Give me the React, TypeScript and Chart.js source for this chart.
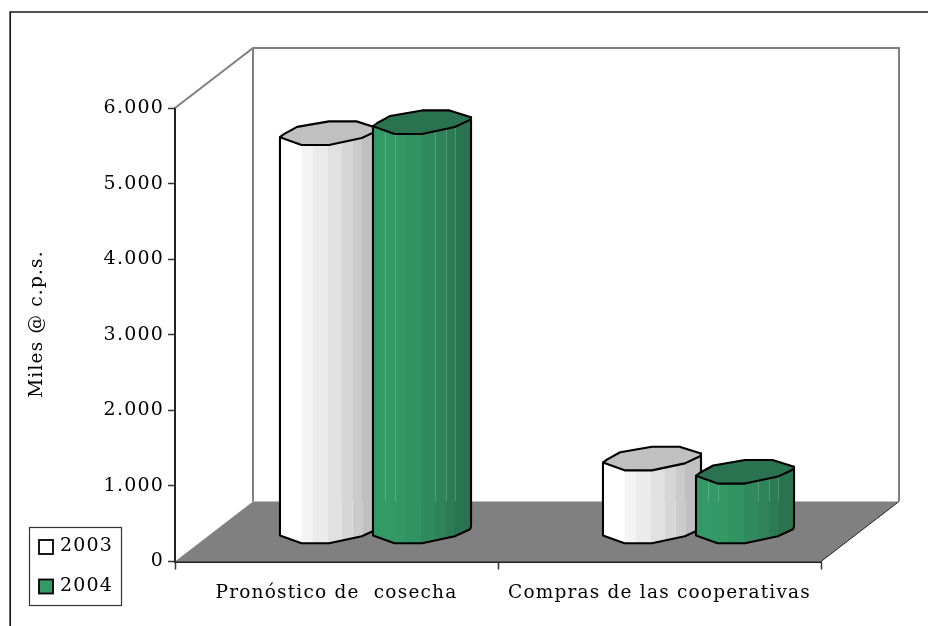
import React, { useEffect, useRef } from "react";
import { Chart, registerables } from "chart.js";

Chart.register(...registerables);

const categories = ["Pronóstico de  cosecha", "Compras de las cooperativas"];
const seriesNames = ["2003", "2004"];
const values2003 = [5270, 965];
const values2004 = [5415, 790];
const yTicks = [0, 1000, 2000, 3000, 4000, 5000, 6000];
const yTitle = "Miles @ c.p.s.";

const FONT = "'DejaVu Serif'";
const SPACING = "1.2px";
const DX = 78;
const DY = -60;

const whiteBands = ["#ffffff", "#f4f4f4", "#ebebeb", "#e1e1e1", "#d6d6d6", "#cbcbcb", "#c0c0c0"];
const greenBands = ["#339966", "#339864", "#329362", "#318a5e", "#2f8359", "#2d7b55", "#2a7350"];
const caps = ["#c0c0c0", "#2a7350"];
const swatches = ["#ffffff", "#339966"];
const bandStops = [-1, -0.56, -0.33, -0.02, 0.26, 0.49, 0.67, 1];
const sheenStops = [[-0.96, -0.75, 0.24, 0.47, 0.67], [-0.75, -0.56, 0.27, 0.49, 0.67]];

const capShape: [number, number][] = [
  [-1, 4], [-0.92, 1], [-0.65, -6.3], [0, -11.8], [0.56, -11.8],
  [1, -5], [0.98, -2.3], [0.67, 4.8], [0, 11.8], [-0.56, 11.8],
];

function poly(ctx: CanvasRenderingContext2D, pts: [number, number][]) {
  ctx.beginPath();
  pts.forEach((p, i) => (i ? ctx.lineTo(p[0], p[1]) : ctx.moveTo(p[0], p[1])));
  ctx.closePath();
}

function setSpacing(ctx: any) {
  ctx.letterSpacing = SPACING;
}

const scenePlugin = {
  id: "scene",
  beforeLayout(chart: any) {
    setSpacing(chart.ctx);
  },
  beforeDraw(chart: any) {
    setSpacing(chart.ctx);
  },
  beforeDatasetsDraw(chart: any) {
    const { ctx, chartArea: a } = chart;
    ctx.save();
    // outer frame
    ctx.strokeStyle = "#1a1a1a";
    ctx.lineWidth = 1.7;
    ctx.beginPath();
    ctx.moveTo(10.2, 626);
    ctx.lineTo(10.2, 12);
    ctx.lineTo(928, 12);
    ctx.stroke();
    // floor
    poly(ctx, [[a.left, a.bottom], [a.left + DX, a.bottom + DY], [a.right + DX, a.bottom + DY], [a.right, a.bottom]]);
    ctx.fillStyle = "#808080";
    ctx.fill();
    ctx.beginPath();
    ctx.moveTo(a.right, a.bottom);
    ctx.lineTo(a.right + DX, a.bottom + DY);
    ctx.lineWidth = 1;
    ctx.strokeStyle = "#222";
    ctx.stroke();
    // walls
    ctx.strokeStyle = "#808080";
    ctx.lineWidth = 2;
    ctx.beginPath();
    ctx.moveTo(a.left, a.top);
    ctx.lineTo(a.left + DX, a.top + DY);
    ctx.lineTo(a.right + DX, a.top + DY);
    ctx.lineTo(a.right + DX, a.bottom + DY);
    ctx.moveTo(a.left + DX, a.top + DY);
    ctx.lineTo(a.left + DX, a.bottom + DY);
    ctx.stroke();
    ctx.restore();
  },
  afterDatasetsDraw(chart: any) {
    const { ctx, chartArea: a } = chart;
    const baseY = a.bottom + DY / 2;
    const floorBackY = a.bottom + DY;
    const n = chart.data.labels.length;
    for (let c = 0; c < n; c++) {
      chart.data.datasets.forEach((ds: any, d: number) => {
        const el = chart.getDatasetMeta(d).data[c];
        const cx = el.x + DX / 2;
        const topY = el.y + DY / 2;
        const half = el.width / 2;
        const at = (p: [number, number], y: number): [number, number] => [cx + p[0] * half, y + p[1]];
        const outline: [number, number][] = [
          at(capShape[0], topY),
          at(capShape[0], baseY),
          at(capShape[9], baseY),
          at(capShape[8], baseY),
          at(capShape[7], baseY),
          at(capShape[6], baseY),
          at(capShape[5], baseY),
          at(capShape[5], topY),
        ];
        const bands = d === 0 ? whiteBands : greenBands;
        ctx.save();
        poly(ctx, outline);
        ctx.save();
        ctx.clip();
        bands.forEach((col, i) => {
          ctx.fillStyle = col;
          ctx.fillRect(cx + bandStops[i] * half, topY - 20, (bandStops[i + 1] - bandStops[i]) * half + 0.5, baseY - topY + 50);
        });
        ctx.strokeStyle = "rgba(255,255,255,0.2)";
        ctx.lineWidth = 1;
        sheenStops[d].forEach((s) => {
          const x = Math.round(cx + s * half) + 0.5;
          ctx.beginPath();
          if (d === 0) {
            ctx.moveTo(x, floorBackY);
            ctx.lineTo(x, baseY + 20);
          } else {
            ctx.moveTo(x, topY);
            ctx.lineTo(x, floorBackY);
          }
          ctx.stroke();
        });
        ctx.restore();
        ctx.strokeStyle = "#000";
        ctx.lineWidth = 2.1;
        ctx.lineJoin = "round";
        poly(ctx, outline);
        ctx.stroke();
        poly(ctx, capShape.map((p) => at(p, topY)));
        ctx.fillStyle = caps[d];
        ctx.fill();
        ctx.stroke();
        ctx.restore();
      });
    }
    ctx.save();
    // axis title
    ctx.translate(37, 324);
    ctx.rotate(-Math.PI / 2);
    ctx.fillStyle = "#000";
    ctx.font = `18.5px ${FONT}`;
    ctx.textAlign = "center";
    ctx.textBaseline = "middle";
    ctx.fillText(yTitle, 0, 0);
    ctx.restore();
    // legend
    const lx = 29, ly = 527, lw = 92, lh = 78;
    ctx.save();
    ctx.fillStyle = "#fff";
    ctx.fillRect(lx, ly, lw, lh);
    ctx.strokeStyle = "#333";
    ctx.lineWidth = 1.2;
    ctx.strokeRect(lx + 0.5, ly + 0.5, lw, lh);
    chart.data.datasets.forEach((ds: any, d: number) => {
      const rowY = ly + 19.5 + d * 39.5;
      ctx.fillStyle = swatches[d];
      ctx.strokeStyle = "#000";
      ctx.lineWidth = 1.8;
      ctx.fillRect(39, rowY - 6.5, 14, 14);
      ctx.strokeRect(39, rowY - 6.5, 14, 14);
      ctx.fillStyle = "#000";
      ctx.font = `19px ${FONT}`;
      ctx.textBaseline = "middle";
      ctx.textAlign = "left";
      ctx.fillText(ds.label, 60, rowY);
    });
    ctx.restore();
  },
};

export default function App() {
  const ref = useRef<HTMLCanvasElement>(null);
  useEffect(() => {
    document.body.style.margin = "0";
    const chart = new Chart(ref.current!, {
      type: "bar",
      data: {
        labels: categories,
        datasets: [
          { label: seriesNames[0], data: values2003, backgroundColor: "rgba(0,0,0,0)", categoryPercentage: 0.576, barPercentage: 1.054 },
          { label: seriesNames[1], data: values2004, backgroundColor: "rgba(0,0,0,0)", categoryPercentage: 0.576, barPercentage: 1.054 },
        ],
      },
      options: {
        animation: false,
        responsive: false,
        layout: { padding: { left: 0, right: 107, top: 108, bottom: 0 } },
        plugins: { legend: { display: false }, tooltip: { enabled: false }, title: { display: false } },
        scales: {
          x: {
            grid: { drawOnChartArea: false, offset: true, color: "#333", tickLength: 8, tickWidth: 1.5 },
            border: { color: "#222", width: 2 },
            ticks: { color: "#000", font: { family: FONT, size: 18.5 }, padding: 13, maxRotation: 0, autoSkip: false },
            afterFit(s: any) { s.height = 64.5; },
          },
          y: {
            min: 0,
            max: 6000,
            afterBuildTicks(s: any) { s.ticks = yTicks.map((value) => ({ value })); },
            grid: { drawOnChartArea: false, color: "#333", tickLength: 7, tickWidth: 1.5 },
            border: { color: "#222", width: 2 },
            ticks: {
              color: "#000",
              font: { family: FONT, size: 19 },
              padding: 4,
              callback: (v: any) => Number(v).toLocaleString("de-DE"),
            },
            afterFit(s: any) { s.width = 175; },
          },
        },
      },
      plugins: [scenePlugin],
    } as any);
    return () => chart.destroy();
  }, []);
  return <canvas ref={ref} width={928} height={626} style={{ display: "block" }} />;
}
